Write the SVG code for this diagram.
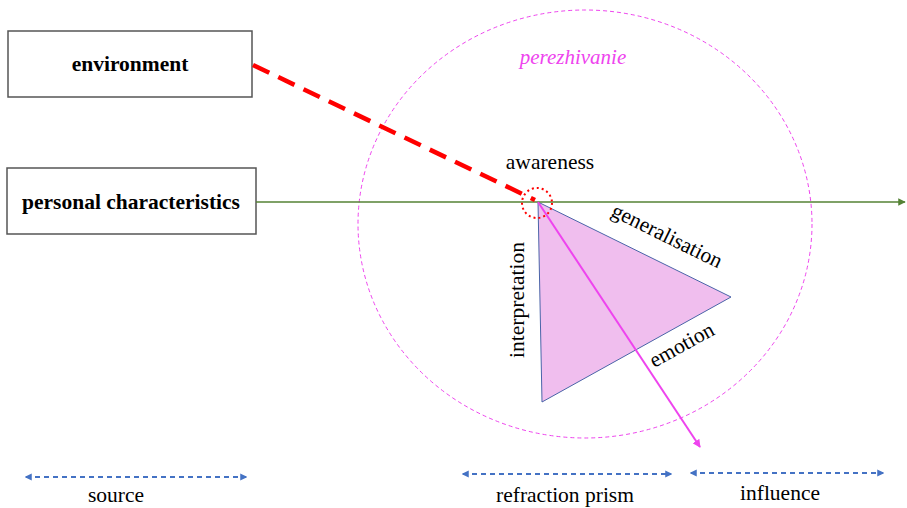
<svg xmlns="http://www.w3.org/2000/svg" width="907" height="508" viewBox="0 0 907 508">
<style>
text{font-family:'Liberation Serif','Times New Roman','DejaVu Serif',serif}
.box{fill:#fff;stroke:#555;stroke-width:1.5}
.bt{font-weight:bold;font-size:21.5px;fill:#000;text-anchor:middle}
.lbl{font-size:21.5px;fill:#000;text-anchor:middle}
.blue{stroke:#4472C4;stroke-width:1.8;stroke-dasharray:5,4;fill:none;marker-start:url(#ab);marker-end:url(#ab)}
</style>
<defs>
<marker id="ab" viewBox="0 0 10 10" refX="8" refY="5" markerWidth="4" markerHeight="4" orient="auto-start-reverse"><path d="M0,0L10,5L0,10z" fill="#4472C4"/></marker>
<marker id="ag" viewBox="0 0 10 10" refX="9" refY="5" markerWidth="5" markerHeight="5" orient="auto"><path d="M0,0L10,5L0,10z" fill="#548235"/></marker>
<marker id="am" viewBox="0 0 10 10" refX="9" refY="5" markerWidth="4" markerHeight="4" orient="auto"><path d="M0,0L10,5L0,10z" fill="#EE44EE"/></marker>
</defs>
<g id="perezhivanie">
<ellipse cx="585" cy="224" rx="227" ry="214" fill="none" stroke="#EE44EE" stroke-width="1" stroke-dasharray="4,3"/>
<text x="573" y="64" font-style="italic" font-size="21" fill="#EE44EE" text-anchor="middle">perezhivanie</text>
</g>
<g id="prism">
<polygon points="538,202 731,297 542,402" fill="#F0BEEE" stroke="#4A64A8" stroke-width="1"/>
<text class="lbl" transform="translate(664,242) rotate(26.2)">generalisation</text>
<text class="lbl" transform="translate(685,351) rotate(-29)">emotion</text>
<text class="lbl" transform="translate(524,300) rotate(-90)">interpretation</text>
</g>
<g id="environment">
<rect class="box" x="8" y="31" width="244" height="66"/>
<text class="bt" x="130" y="71">environment</text>
</g>
<g id="personal">
<rect class="box" x="7" y="168" width="249" height="66"/>
<text class="bt" x="131" y="209">personal characteristics</text>
</g>
<g id="connectors">
<line x1="256" y1="202" x2="905" y2="202" stroke="#548235" stroke-width="1.5" marker-end="url(#ag)"/>
<line x1="253" y1="65" x2="535" y2="200" stroke="#FF0000" stroke-width="4.5" stroke-dasharray="18,10"/>
<line x1="538" y1="202" x2="700" y2="447" stroke="#EE44EE" stroke-width="2" marker-end="url(#am)"/>
</g>
<g id="awareness">
<circle cx="537" cy="203" r="15" fill="none" stroke="#FF0000" stroke-width="2" stroke-dasharray="2,3"/>
<text class="lbl" x="550" y="169">awareness</text>
</g>
<g id="legend">
<line class="blue" x1="26" y1="477" x2="246" y2="477"/>
<text class="lbl" x="116" y="502">source</text>
<line class="blue" x1="463" y1="474" x2="671" y2="474"/>
<text class="lbl" x="565" y="502">refraction prism</text>
<line class="blue" x1="691" y1="473" x2="883" y2="473"/>
<text class="lbl" x="780" y="500">influence</text>
</g>
</svg>
